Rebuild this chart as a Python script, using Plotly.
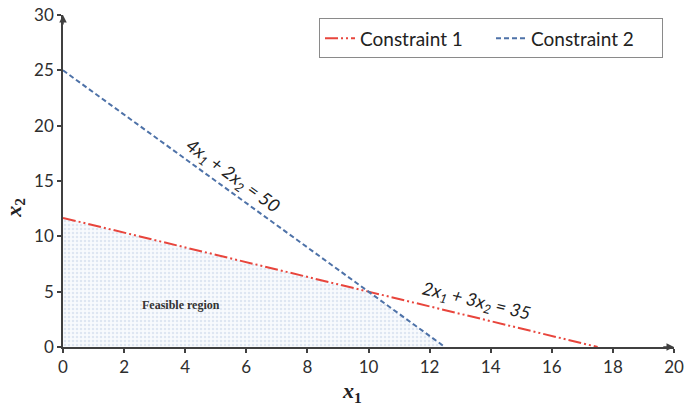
import plotly.graph_objects as go

# Data
c1_x = [0, 17.5]
c1_y = [35 / 3, 0]
c2_x = [0, 12.5]
c2_y = [25, 0]
feas_x = [0, 0, 10, 12.5, 0]
feas_y = [0, 35 / 3, 5, 0, 0]
x_ticks = [0, 2, 4, 6, 8, 10, 12, 14, 16, 18, 20]
y_ticks = [0, 5, 10, 15, 20, 25, 30]

RED = "#e8453c"
BLUE = "#4e72a8"
AX = "#404040"

fig = go.Figure()

fig.add_trace(go.Scatter(
    x=feas_x, y=feas_y, mode="lines", fill="toself",
    line=dict(width=0), fillcolor="rgba(0,0,0,0)",
    fillpattern=dict(shape=".", fgcolor="#c3d2e6", bgcolor="#f8fafd", size=4, solidity=0.3),
    showlegend=False, hoverinfo="skip",
))
fig.add_trace(go.Scatter(
    x=c1_x, y=c1_y, mode="lines", name="Constraint 1",
    line=dict(color=RED, width=2, dash="13px,3px,2px,3px,2px,3px"),
    cliponaxis=False,
))
fig.add_trace(go.Scatter(
    x=c2_x, y=c2_y, mode="lines", name="Constraint 2",
    line=dict(color=BLUE, width=2, dash="5px,3px"),
    cliponaxis=False,
))

tick_font = dict(family="Lato, Open Sans, sans-serif", size=17, color="#2e2e2e")

fig.update_layout(
    width=687, height=406, autosize=False,
    margin=dict(l=63, r=13, t=15, b=59),
    paper_bgcolor="white", plot_bgcolor="white",
    showlegend=True,
    legend=dict(
        orientation="h", x=0.982, xanchor="right", y=0.99, yanchor="top",
        bordercolor="#8a8a8a", borderwidth=1, bgcolor="white",
        font=dict(family="Lato, Open Sans, sans-serif", size=19, color="#222222"),
        entrywidth=126, entrywidthmode="pixels",
    ),
    xaxis=dict(
        range=[0, 20], tickvals=x_ticks, showgrid=False, zeroline=False,
        showline=True, linecolor=AX, linewidth=1.5, ticks="outside",
        ticklen=4, tickcolor=AX, tickwidth=1.5, tickfont=tick_font, automargin=False,
    ),
    yaxis=dict(
        range=[0, 30], tickvals=y_ticks, showgrid=False, zeroline=False,
        showline=True, linecolor=AX, linewidth=1.5, ticks="outside",
        ticklen=4, tickcolor=AX, tickwidth=1.5, tickfont=tick_font, automargin=False,
    ),
)

# axis arrowheads
fig.add_annotation(x=20, y=0, ax=19.6, ay=0, xref="x", yref="y", axref="x", ayref="y",
                   showarrow=True, arrowhead=2, arrowsize=1, arrowwidth=1.5, arrowcolor=AX, text="")
fig.add_annotation(x=0, y=30, ax=0, ay=29, xref="x", yref="y", axref="x", ayref="y",
                   showarrow=True, arrowhead=2, arrowsize=1, arrowwidth=1.5, arrowcolor=AX, text="")

# axis titles
fig.add_annotation(x=0.473, y=-0.137, xref="paper", yref="paper", yanchor="middle",
                   text="<b><i>x</i><sub>1</sub></b>", showarrow=False,
                   font=dict(family="Liberation Serif, serif", size=22, color="#222222"))
fig.add_annotation(x=-0.08, y=0.42, xref="paper", yref="paper", xanchor="center",
                   text="<b><i>x</i><sub>2</sub></b>", showarrow=False, textangle=-90,
                   font=dict(family="Liberation Serif, serif", size=22, color="#222222"))

# equation labels
eq_font = dict(family="Lato, Open Sans, sans-serif", size=18, color="#222222")
fig.add_annotation(x=5.56, y=15.4, xref="x", yref="y",
                   text="<i>4x<sub>1</sub> + 2x<sub>2</sub> = 50</i>",
                   showarrow=False, textangle=36, font=eq_font)
fig.add_annotation(x=13.52, y=4.1, xref="x", yref="y",
                   text="<i>2x<sub>1</sub> + 3x<sub>2</sub> = 35</i>",
                   showarrow=False, textangle=13.6, font=eq_font)

fig.add_annotation(x=3.86, y=3.8, xref="x", yref="y", text="<b>Feasible region</b>",
                   showarrow=False,
                   font=dict(family="Liberation Serif, serif", size=12, color="#333333"))

fig.write_html("out.html",
               config={"responsive": False, "displayModeBar": False},
               post_script="document.body.style.margin='0';document.body.style.overflow='hidden';")
